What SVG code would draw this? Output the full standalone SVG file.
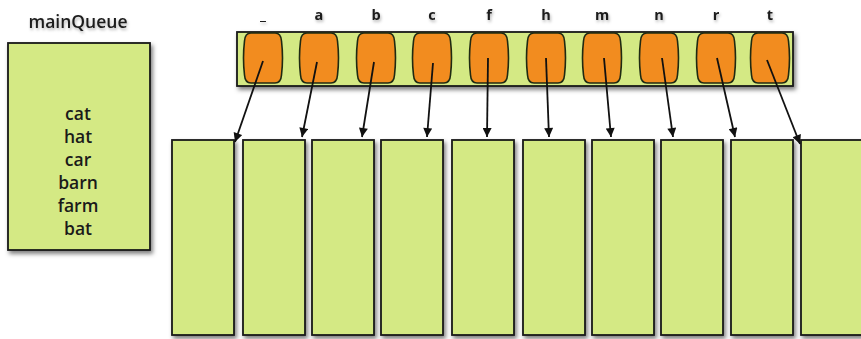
<svg xmlns="http://www.w3.org/2000/svg" width="861" height="339" viewBox="0 0 861 339">
<style>
.box{fill:#d4e984;stroke:#1a1a1a;stroke-width:1.8}
.cap{fill:#f28c1f;stroke:#1f2a12;stroke-width:1.6}
.t{font-family:"Open Sans","DejaVu Sans",sans-serif;font-weight:600;font-size:17.5px;fill:#1a1a1a;text-anchor:middle}
.l{font-family:"Open Sans","DejaVu Sans",sans-serif;font-weight:700;font-size:14.5px;fill:#1a1a1a;text-anchor:middle}
.c{stroke:#111;stroke-width:1.8;fill:none;marker-end:url(#ah)}
</style>
<defs>
<filter id="sh" x="-20%" y="-20%" width="140%" height="140%">
<feDropShadow dx="2" dy="3" stdDeviation="2.2" flood-color="#000" flood-opacity="0.5"/>
</filter>
<filter id="tsh" x="-20%" y="-50%" width="140%" height="200%">
<feDropShadow dx="1" dy="2" stdDeviation="1.5" flood-color="#000" flood-opacity="0.3"/>
</filter>
<marker id="ah" viewBox="0 0 10 10" refX="10" refY="5" markerWidth="11" markerHeight="9" orient="auto" markerUnits="userSpaceOnUse">
<path d="M0,0 L10,5 L0,10 Z" fill="#111"/>
</marker>
<path id="capsule" class="cap" d="M-12,-25 H12 Q18,-25 18.5,-17 Q20.5,0 18.5,17 Q18,25 12,25 H-12 Q-18,25 -18.5,17 Q-20.5,0 -18.5,-17 Q-18,-25 -12,-25 Z"/>
</defs>

<g id="mainQueue">
<text class="t" x="78" y="28" filter="url(#tsh)">mainQueue</text>
<rect class="box" x="8" y="43" width="142" height="207" filter="url(#sh)"/>
<text class="t" x="78" y="120">cat</text>
<text class="t" x="78" y="143">hat</text>
<text class="t" x="78" y="166">car</text>
<text class="t" x="78" y="189">barn</text>
<text class="t" x="78" y="212">farm</text>
<text class="t" x="78" y="235">bat</text>
</g>

<g id="indexBar">
<rect class="box" x="237" y="32" width="556" height="54" filter="url(#sh)"/>
</g>

<g id="labels" filter="url(#tsh)">
<text class="l" x="263" y="20">_</text>
<text class="l" x="319" y="20">a</text>
<text class="l" x="376" y="20">b</text>
<text class="l" x="432" y="20">c</text>
<text class="l" x="489" y="20">f</text>
<text class="l" x="546" y="20">h</text>
<text class="l" x="602" y="20">m</text>
<text class="l" x="659" y="20">n</text>
<text class="l" x="716" y="20">r</text>
<text class="l" x="770" y="20">t</text>
</g>

<g id="slot-_"><use href="#capsule" x="263" y="58"/></g>
<g id="slot-a"><use href="#capsule" x="319" y="58"/></g>
<g id="slot-b"><use href="#capsule" x="376" y="58"/></g>
<g id="slot-c"><use href="#capsule" x="432" y="58"/></g>
<g id="slot-f"><use href="#capsule" x="489" y="58"/></g>
<g id="slot-h"><use href="#capsule" x="546" y="58"/></g>
<g id="slot-m"><use href="#capsule" x="602" y="58"/></g>
<g id="slot-n"><use href="#capsule" x="659" y="58"/></g>
<g id="slot-r"><use href="#capsule" x="716" y="58"/></g>
<g id="slot-t"><use href="#capsule" x="770" y="58"/></g>

<g id="bucket-1"><rect class="box" x="172" y="140" width="62" height="195" filter="url(#sh)"/></g>
<g id="bucket-2"><rect class="box" x="243" y="140" width="62" height="195" filter="url(#sh)"/></g>
<g id="bucket-3"><rect class="box" x="312" y="140" width="62" height="195" filter="url(#sh)"/></g>
<g id="bucket-4"><rect class="box" x="381" y="140" width="62" height="195" filter="url(#sh)"/></g>
<g id="bucket-5"><rect class="box" x="452" y="140" width="62" height="195" filter="url(#sh)"/></g>
<g id="bucket-6"><rect class="box" x="523" y="140" width="62" height="195" filter="url(#sh)"/></g>
<g id="bucket-7"><rect class="box" x="592" y="140" width="62" height="195" filter="url(#sh)"/></g>
<g id="bucket-8"><rect class="box" x="661" y="140" width="62" height="195" filter="url(#sh)"/></g>
<g id="bucket-9"><rect class="box" x="731" y="140" width="62" height="195" filter="url(#sh)"/></g>
<g id="bucket-10"><rect class="box" x="801" y="140" width="64" height="195" filter="url(#sh)"/></g>

<g id="connectors">
<line class="c" x1="263" y1="61" x2="235" y2="142"/>
<line class="c" x1="317" y1="62" x2="302" y2="137"/>
<line class="c" x1="374" y1="62" x2="362" y2="137"/>
<line class="c" x1="433" y1="63" x2="427" y2="137"/>
<line class="c" x1="488" y1="58" x2="487" y2="137"/>
<line class="c" x1="546" y1="58" x2="549" y2="137"/>
<line class="c" x1="604" y1="58" x2="611" y2="137"/>
<line class="c" x1="662" y1="58" x2="673" y2="137"/>
<line class="c" x1="717" y1="58" x2="735" y2="137"/>
<line class="c" x1="767" y1="60" x2="800" y2="144"/>
</g>
</svg>
